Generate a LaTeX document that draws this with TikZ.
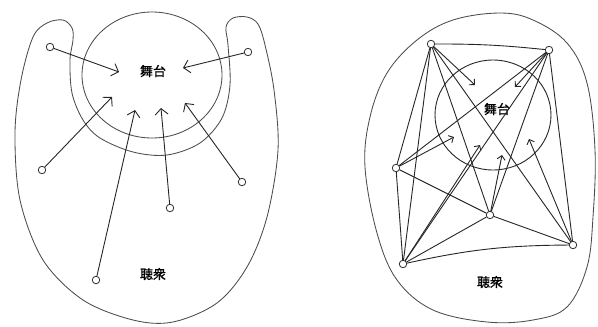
\documentclass[tikz,border=0pt]{standalone}
\usepackage{fontspec}
\newfontfamily\cjk[FakeBold=1]{Noto Sans CJK JP}
\usetikzlibrary{arrows.meta}
\begin{document}
\begin{tikzpicture}[x=1pt,y=-1pt,
  ink/.style={draw=black!85,line width=0.9pt,line cap=round,line join=round},
  pencil/.style={draw=black!70,line width=0.85pt},
  person/.style={circle,draw=black!80,line width=0.8pt,fill=white,inner sep=0pt,minimum size=7.5pt},
  bigarrow/.style={ink,-{Straight Barb[length=6pt,width=13pt]}},
  smallarrow/.style={ink,-{Straight Barb[length=4pt,width=8pt]}},
  label/.style={font=\cjk\fontsize{13}{15}\selectfont,inner sep=0pt}]
\useasboundingbox (0,0) rectangle (598,327);
% ---------- left panel ----------
\draw[pencil] plot[smooth cycle,tension=0.55] coordinates {
 (73,40) (70,60) (72,93) (83,120) (100,138) (133,152) (167,155) (200,143)
 (222,118) (230,85) (228,45) (226,27) (233,18) (247,17) (258,24) (265,45)
 (274,90) (278,150) (267,217) (247,267) (217,303) (173,322) (133,320)
 (83,300) (43,260) (20,200) (15,133) (21,80) (33,37) (47,23) (63,20) (72,28)};
\draw[pencil] (152,75) ellipse [x radius=70pt,y radius=63pt];
\node[label] (stageL) at (153,71) {舞台};
\node[label] (audL) at (153,274) {聴衆};
\node[person] (l1) at (50,47) {};
\node[person] (l2) at (248,52) {};
\node[person] (l3) at (42,170) {};
\node[person] (l4) at (96,280) {};
\node[person] (l5) at (170,208) {};
\node[person] (l6) at (242,182) {};
\coordinate (t1) at (119,72);
\coordinate (t2) at (183,68);
\coordinate (t3) at (112,97);
\coordinate (t4) at (135,110);
\coordinate (t5) at (161,108);
\coordinate (t6) at (185,103);
\foreach \i in {1,...,6} \draw[bigarrow] (l\i) -- (t\i);
% ---------- right panel ----------
\draw[pencil] plot[smooth cycle,tension=0.6] coordinates {
 (500,13) (533,20) (567,43) (587,83) (595,150) (593,217) (587,267) (567,307)
 (533,320) (487,322) (433,310) (397,280) (377,233) (365,167) (370,117)
 (387,73) (417,40) (453,20)};
\draw[ink] (493,115) ellipse [x radius=58pt,y radius=55pt];
\node[label] (stageR) at (497,109) {舞台};
\node[label] (audR) at (490,282) {聴衆};
\node[person] (A) at (431,44) {};
\node[person] (B) at (549,50) {};
\node[person] (C) at (396,168) {};
\node[person] (D) at (490,215) {};
\node[person] (E) at (573,245) {};
\node[person] (F) at (403,264) {};
\draw[ink] (A) to[bend left=3] (B);
\foreach \a/\b in {A/C,A/F,A/D,A/E,B/C,B/F,B/D,B/E,C/D,C/F,D/E,D/F}
  \draw[ink] (\a) -- (\b);
\draw[ink] (F) to[bend left=6] (E);
\coordinate (sA) at (475,85);
\coordinate (sB) at (515,87);
\coordinate (sC) at (454,137);
\coordinate (sF) at (480,145);
\coordinate (sD) at (502,155);
\coordinate (sE) at (529,139);
\foreach \n in {A,B,C,D,E,F} \draw[smallarrow] (\n) -- (s\n);
\end{tikzpicture}
\end{document}
